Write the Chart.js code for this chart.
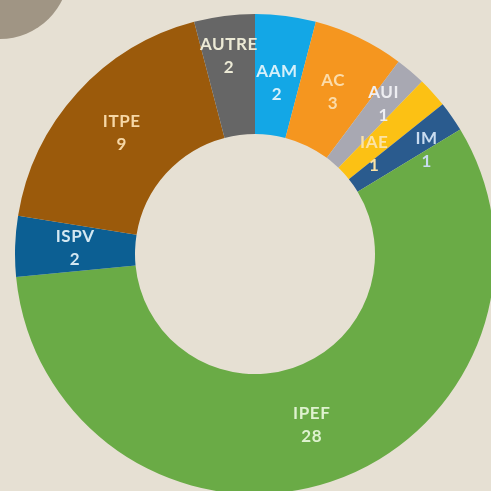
<!DOCTYPE html>
<html>
<head>
<meta charset="utf-8">
<script src="https://cdn.jsdelivr.net/npm/chart.js@4"></script>
<style>
html,body{margin:0;padding:0;width:491px;height:491px;overflow:hidden;background:#e6e0d3;}
#deco{position:absolute;left:-69px;top:-99px;width:138px;height:138px;border-radius:50%;background:#a09584;}
#wrap{position:absolute;left:15px;top:14px;width:480px;height:480px;}
</style>
</head>
<body>
<div id="deco"></div>
<div id="wrap"><canvas id="c" width="480" height="480"></canvas></div>
<script>
const categories = ["AAM","AC","AUI","IAE","IM","IPEF","ISPV","ITPE","AUTRE"];
const values = [2,3,1,1,1,28,2,9,2];
const sliceColors = ["#13a7e6","#f5961f","#a8a8b2","#fcc114","#2a5b8e","#6aab46","#0c5f93","#9b5a0b","#666666"];
const labelColors = ["#d6f0fa","#fbdcaa","#eeeef2","#fbe3a6","#c9dcf0","#dff2cf","#d4e8f2","#f6d7a6","#ecead6"];
const labelNudge = [[-1,8],[0,0],[12,-13],[-14,21],[24,-1],[0,0],[0,0],[0,0],[-3,-19]];

const sliceLabels = {
  id: 'sliceLabels',
  afterDatasetsDraw(chart) {
    const ctx = chart.ctx;
    const meta = chart.getDatasetMeta(0);
    ctx.save();
    ctx.font = 'bold 17px Lato, "Open Sans", sans-serif';
    if ('letterSpacing' in ctx) ctx.letterSpacing = '0.6px';
    ctx.textAlign = 'center';
    ctx.textBaseline = 'middle';
    meta.data.forEach((arc, i) => {
      const p = arc.getProps(['x','y','startAngle','endAngle','outerRadius','innerRadius'], true);
      const a = (p.startAngle + p.endAngle) / 2;
      const r = p.outerRadius * 0.75;
      const x = p.x + Math.cos(a) * r + labelNudge[i][0];
      const y = p.y + Math.sin(a) * r + labelNudge[i][1];
      ctx.fillStyle = labelColors[i];
      ctx.fillText(categories[i], x, y - 11.5);
      ctx.fillText(String(values[i]), x, y + 11.5);
    });
    ctx.restore();
  }
};

new Chart(document.getElementById('c'), {
  type: 'doughnut',
  data: {
    labels: categories,
    datasets: [{
      data: values,
      backgroundColor: sliceColors,
      borderWidth: 0,
      hoverOffset: 0
    }]
  },
  options: {
    responsive: false,
    animation: false,
    cutout: '50%',
    layout: { padding: 0 },
    plugins: { legend: { display: false }, tooltip: { enabled: false } }
  },
  plugins: [sliceLabels]
});
</script>
</body>
</html>
